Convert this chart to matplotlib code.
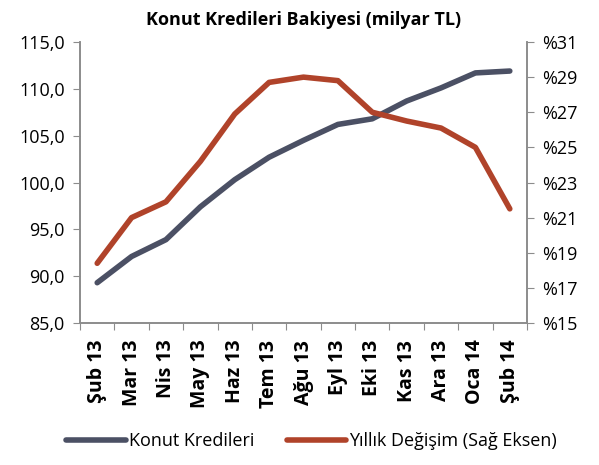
import matplotlib
matplotlib.use("Agg")
import matplotlib.pyplot as plt
from matplotlib.ticker import FuncFormatter, MultipleLocator

# data
months = ["Şub 13", "Mar 13", "Nis 13", "May 13", "Haz 13", "Tem 13", "Ağu 13",
          "Eyl 13", "Eki 13", "Kas 13", "Ara 13", "Oca 14", "Şub 14"]
konut = [89.3, 92.1, 93.9, 97.4, 100.3, 102.7, 104.5, 106.2, 106.8, 108.7, 110.1, 111.7, 111.9]
yillik = [18.4, 21.0, 21.9, 24.2, 26.9, 28.7, 29.0, 28.8, 27.0, 26.5, 26.1, 25.0, 21.5]
right_ticks = [15, 17, 19, 21, 23, 25, 27, 29, 31]

BLUE = "#4b5064"
RED = "#b0432a"
GRAY = "#8c8c8c"

plt.rcParams["font.family"] = ["Open Sans", "DejaVu Sans"]

fig = plt.figure(figsize=(5.99, 4.65), dpi=100)
ax = fig.add_axes([80 / 599, 1 - 323 / 465, (527 - 80) / 599, (323 - 42) / 465])
ax2 = ax.twinx()

x = list(range(len(months)))
ax.plot(x, konut, color=BLUE, lw=4, solid_capstyle="round", zorder=3)
ax2.plot(x, yillik, color=RED, lw=4, solid_capstyle="round", zorder=3)

ax.set_xlim(-0.5, len(months) - 0.5)
ax.set_ylim(85, 115)
ax.yaxis.set_major_locator(MultipleLocator(5))
ax.yaxis.set_major_formatter(FuncFormatter(lambda v, p: f"{v:.1f}".replace(".", ",")))
ax2.set_ylim(15, 31)
ax2.set_yticks(right_ticks)
ax2.yaxis.set_major_formatter(FuncFormatter(lambda v, p: f"%{v:.0f}"))

# category ticks at boundaries, labels centred
ax.set_xticks([i - 0.5 for i in range(len(months) + 1)])
ax.set_xticklabels([])
ax.set_xticks(x, minor=True)
ax.set_xticklabels(months, minor=True, rotation=90, fontsize=14, fontweight="bold")
ax.tick_params(axis="x", which="minor", length=0, pad=12)
ax.tick_params(axis="x", which="major", length=5, color=GRAY, direction="out")

for a in (ax, ax2):
    a.spines["top"].set_visible(False)
    for s in ("left", "right", "bottom"):
        a.spines[s].set_color(GRAY)
        a.spines[s].set_linewidth(1.2)
ax.tick_params(axis="y", length=5, color=GRAY, labelsize=13, pad=6)
ax2.tick_params(axis="y", length=5, color=GRAY, labelsize=13, pad=6)

ax.set_title("Konut Kredileri Bakiyesi (milyar TL)", fontsize=13, fontweight="bold", pad=12)

h1, = ax.plot([], [], color=BLUE, lw=4, solid_capstyle="round")
h2, = ax.plot([], [], color=RED, lw=4, solid_capstyle="round")
fig.legend([h1, h2], ["Konut Kredileri", "Yıllık Değişim (Sağ Eksen)"],
           loc="center", bbox_to_anchor=(0.52, 1 - 441 / 465), ncol=2, frameon=False,
           fontsize=13, handlelength=3.3, handletextpad=0.15, columnspacing=1.8)

fig.savefig("out.png", dpi=100)
